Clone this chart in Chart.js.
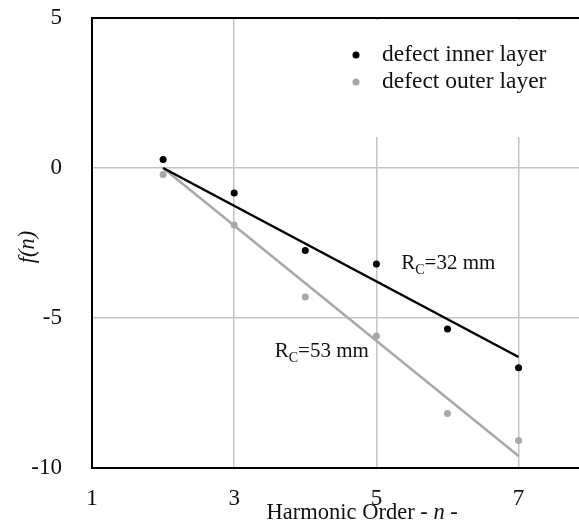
<!DOCTYPE html>
<html>
<head>
<meta charset="utf-8">
<script src="https://cdn.jsdelivr.net/npm/chart.js@4"></script>
<style>
  html, body { margin: 0; padding: 0; background: #fff; overflow: hidden; }
  canvas { display: block; }
</style>
</head>
<body>
<canvas id="chart" width="579" height="528"></canvas>
<script>
// Chart data
const harmonics = [2, 3, 4, 5, 6, 7];
const innerLayer = [0.28, -0.83, -2.75, -3.2, -5.37, -6.66];
const outerLayer = [-0.22, -1.9, -4.3, -5.6, -8.18, -9.08];
const fitRange = [2, 7];
const innerFit = [0, -6.3];
const outerFit = [0, -9.6];
const xTicks = [1, 3, 5, 7];
const yTicks = [5, 0, -5, -10];
const seriesLabels = ['defect inner layer', 'defect outer layer'];
const fitLabels = ['32 mm', '53 mm'];

const SERIF = "'Liberation Serif', 'DejaVu Serif', serif";
const BLACK = '#000000';
const GREY = '#a8a8a8';

function toPoints(xs, ys) {
  return xs.map((x, i) => ({ x: x, y: ys[i] }));
}

// Draw "R" with a subscript "C" followed by the rest of the label
function drawRc(ctx, x, y, rest) {
  ctx.fillStyle = '#111';
  ctx.textAlign = 'left';
  ctx.textBaseline = 'alphabetic';
  ctx.font = '21px ' + SERIF;
  ctx.fillText('R', x, y);
  let w = ctx.measureText('R').width;
  ctx.font = '14px ' + SERIF;
  ctx.fillText('C', x + w, y + 5);
  w += ctx.measureText('C').width;
  ctx.font = '21px ' + SERIF;
  ctx.fillText('=' + rest, x + w, y);
}

// Legend box, annotations and axis titles
const decorations = {
  id: 'decorations',
  beforeDatasetsDraw(chart) {
    const { ctx, chartArea } = chart;
    ctx.save();
    ctx.fillStyle = '#ffffff';
    ctx.fillRect(282, chartArea.top + 2, chartArea.right - 282, 137 - chartArea.top - 2);
    ctx.restore();
  },
  afterDraw(chart) {
    const { ctx, chartArea } = chart;
    const xs = chart.scales.x;
    const ys = chart.scales.y;
    ctx.save();

    // legend
    const colors = [BLACK, GREY];
    const rowY = [55, 82];
    seriesLabels.forEach((label, i) => {
      ctx.fillStyle = colors[i];
      ctx.beginPath();
      ctx.arc(356, rowY[i], 3.5, 0, Math.PI * 2);
      ctx.fill();
      ctx.fillStyle = '#111';
      ctx.font = '23.5px ' + SERIF;
      ctx.textAlign = 'left';
      ctx.textBaseline = 'middle';
      ctx.fillText(label, 382, rowY[i]);
    });

    // fit annotations
    drawRc(ctx, xs.getPixelForValue(5.35), ys.getPixelForValue(-3.36), fitLabels[0]);
    drawRc(ctx, xs.getPixelForValue(3.57), ys.getPixelForValue(-6.3), fitLabels[1]);

    // x title with italic n
    ctx.fillStyle = '#111';
    ctx.textBaseline = 'alphabetic';
    ctx.textAlign = 'left';
    const partA = 'Harmonic Order - ';
    const partB = 'n';
    const partC = ' -';
    ctx.font = '22.5px ' + SERIF;
    const wA = ctx.measureText(partA).width;
    const wC = ctx.measureText(partC).width;
    ctx.font = 'italic 22.5px ' + SERIF;
    const wB = ctx.measureText(partB).width;
    const cx = xs.getPixelForValue(4.8);
    let tx = cx - (wA + wB + wC) / 2;
    const ty = 519;
    ctx.font = '22.5px ' + SERIF;
    ctx.fillText(partA, tx, ty);
    tx += wA;
    ctx.font = 'italic 22.5px ' + SERIF;
    ctx.fillText(partB, tx, ty);
    tx += wB;
    ctx.font = '22.5px ' + SERIF;
    ctx.fillText(partC, tx, ty);

    // y title
    ctx.translate(28, (chartArea.top + chartArea.bottom) / 2 + 4);
    ctx.rotate(-Math.PI / 2);
    ctx.font = 'italic 22.5px ' + SERIF;
    ctx.textAlign = 'center';
    ctx.textBaseline = 'middle';
    ctx.fillText('f(n)', 0, 0);
    ctx.restore();
  }
};

const ctx = document.getElementById('chart').getContext('2d');
const chart = new Chart(ctx, {
  type: 'scatter',
  data: {
    datasets: [
      {
        label: seriesLabels[0],
        data: toPoints(harmonics, innerLayer),
        backgroundColor: BLACK,
        borderColor: BLACK,
        pointRadius: 3.5,
        borderWidth: 0,
        showLine: false
      },
      {
        label: seriesLabels[1],
        data: toPoints(harmonics, outerLayer),
        backgroundColor: GREY,
        borderColor: GREY,
        pointRadius: 3.5,
        borderWidth: 0,
        showLine: false
      },
      {
        label: 'fit inner',
        data: toPoints(fitRange, innerFit),
        borderColor: BLACK,
        borderWidth: 2.5,
        pointRadius: 0,
        showLine: true
      },
      {
        label: 'fit outer',
        data: toPoints(fitRange, outerFit),
        borderColor: GREY,
        borderWidth: 2.5,
        pointRadius: 0,
        showLine: true
      }
    ]
  },
  options: {
    responsive: false,
    animation: false,
    layout: { autoPadding: false, padding: { top: 18, right: 0, bottom: 0, left: 0 } },
    plugins: {
      legend: { display: false },
      tooltip: { enabled: false }
    },
    scales: {
      x: {
        type: 'linear',
        min: 1,
        max: 7.85,
        afterBuildTicks: scale => { scale.ticks = xTicks.map(v => ({ value: v })); },
        afterFit: scale => {
          scale.height = 60;
          scale.paddingLeft = 0;
          scale.paddingRight = 0;
        },
        border: { display: true, color: BLACK, width: 2 },
        grid: {
          drawTicks: false,
          color: c => (c.tick && c.tick.value === 1 ? 'rgba(0,0,0,0)' : '#c4c4c4'),
          lineWidth: 1.5
        },
        ticks: {
          padding: 17,
          color: '#111',
          font: { family: SERIF, size: 23 },
          maxRotation: 0
        }
      },
      y: {
        type: 'linear',
        min: -10,
        max: 5,
        afterBuildTicks: scale => { scale.ticks = yTicks.map(v => ({ value: v })); },
        afterFit: scale => {
          scale.width = 92;
          scale.paddingTop = 0;
          scale.paddingBottom = 0;
        },
        border: { display: true, color: BLACK, width: 2 },
        grid: {
          drawTicks: false,
          color: c => {
            if (!c.tick) return '#c4c4c4';
            if (c.tick.value === 5) return BLACK;
            if (c.tick.value === -10) return 'rgba(0,0,0,0)';
            return '#c4c4c4';
          },
          lineWidth: c => (c.tick && c.tick.value === 5 ? 2 : 1.5)
        },
        ticks: {
          padding: 30,
          color: '#111',
          font: { family: SERIF, size: 23 }
        }
      }
    }
  },
  plugins: [decorations]
});
</script>
</body>
</html>
